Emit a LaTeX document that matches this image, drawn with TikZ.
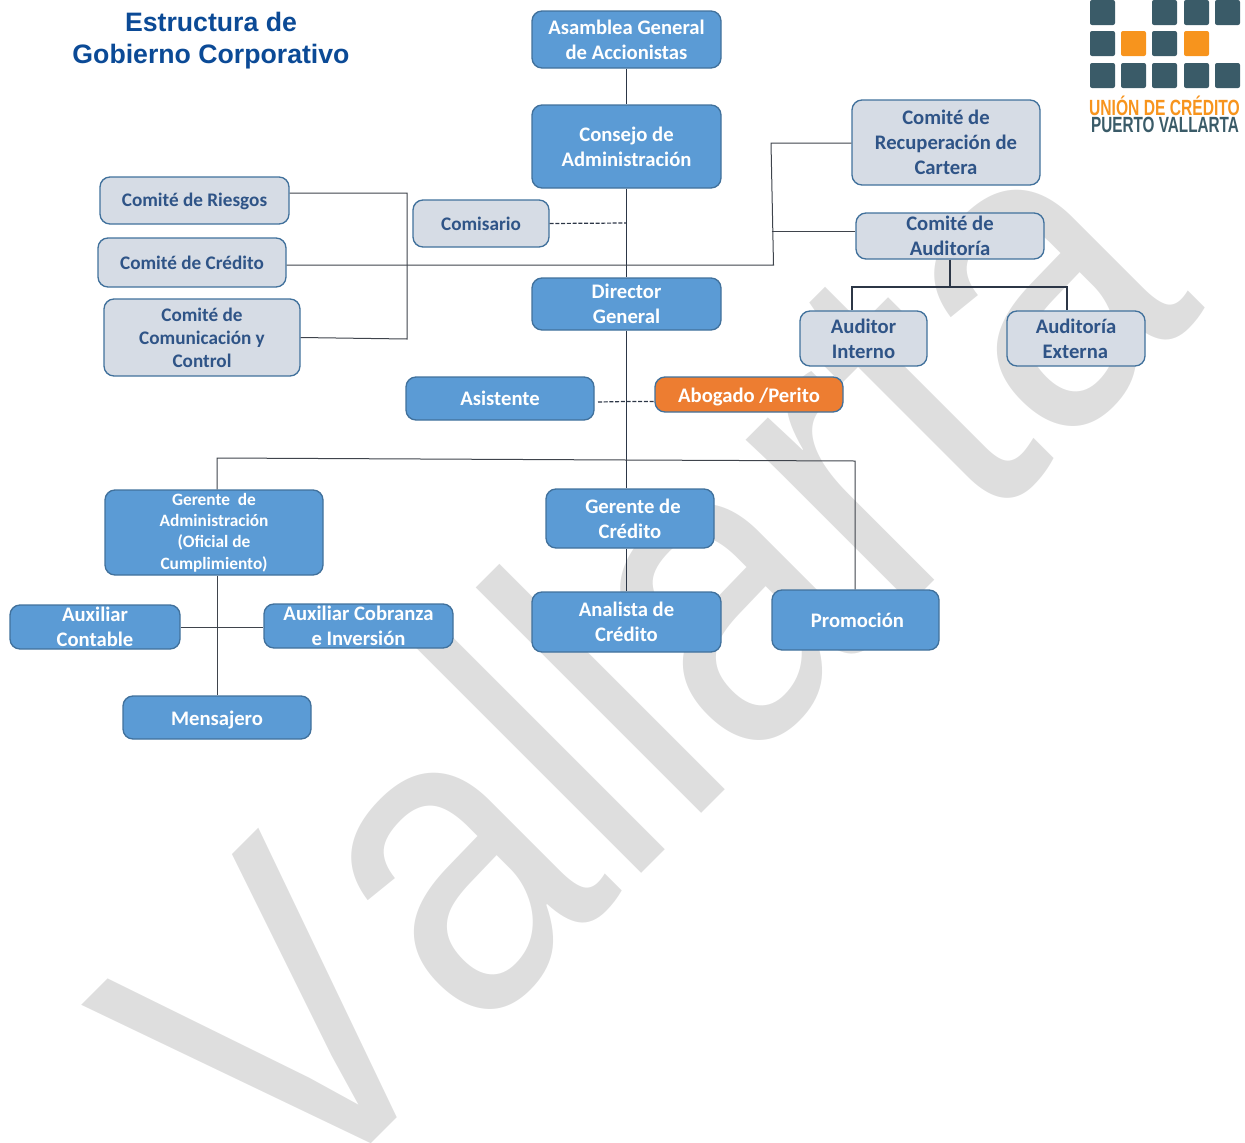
\documentclass[tikz,border=0pt]{standalone}
\usepackage{fontspec}
\setmainfont{Carlito}
\newfontfamily\arialf{Liberation Sans}
\newfontfamily\wmfont[Kerning=Off]{Liberation Sans}
\definecolor{bluefill}{HTML}{5B9BD5}
\definecolor{blueline}{HTML}{41719C}
\definecolor{lightfill}{HTML}{D6DCE5}
\definecolor{lighttext}{HTML}{2F5487}
\definecolor{orangefill}{HTML}{ED7D31}
\definecolor{logodark}{HTML}{3A5B68}
\definecolor{logoorange}{HTML}{F7941D}
\definecolor{wm}{HTML}{DEDEDE}
\definecolor{conn}{HTML}{2C3646}
\definecolor{conngray}{HTML}{3F444C}
\definecolor{titleblue}{HTML}{0B4A96}
\tikzset{
  basebox/.style={draw=blueline,line width=1pt,rounded corners=7.5pt,inner sep=0pt,align=center,font=\fontsize{15.5}{18.7}\selectfont\bfseries},
  bluebox/.style={basebox,fill=bluefill,text=white},
  lightbox/.style={basebox,fill=lightfill,text=lighttext},
  smalllight/.style={lightbox,font=\fontsize{14.4}{17.3}\selectfont\bfseries},
  orangebox/.style={basebox,fill=orangefill,text=white},
  conline/.style={draw=conn,line width=0.85pt},
  grayline/.style={draw=conngray,line width=0.75pt},
  dashline/.style={draw=conn,line width=0.9pt,dash pattern=on 3pt off 1.3pt},
  logosq/.style={fill=logodark,rounded corners=1.5pt},
  logoor/.style={fill=logoorange,rounded corners=1.5pt},
}
\newcommand{\bx}[7]{\node[#2,minimum width={(#5-#3)*0.75pt},minimum height={(#6-#4)*0.75pt}] (#1) at ({(#3+#5)/2},{(#4+#6)/2}) {#7};}
\newcommand{\lgsq}[3]{\path[#1] (#2,#3) rectangle ++(25,25);}
\newcommand{\lowered}[2]{\raisebox{-#1}[\height][\depth]{#2}}
\begin{document}
\begin{tikzpicture}[x=0.75pt,y=-0.75pt]
\useasboundingbox (0,0) rectangle (1245,1142);
\begin{scope}
\clip (0,0) rectangle (1245,1142);
\node[anchor=base west,rotate=45,text=wm,inner sep=0pt,font=\wmfont\fontsize{330}{330}\selectfont] (wmark) at (294,1221) {\scalebox{0.865}[1]{Vallarta}};
\end{scope}
% title
\node[font=\arialf\fontsize{20}{24}\selectfont\bfseries,text=titleblue,align=center,inner sep=0pt] (title) at (211,41) {Estructura de\\Gobierno Corporativo};
% logo
\foreach \x/\y in {1090/0,1152/0,1184/0,1215/0,1090/31,1152/31,1090/63,1121/63,1152/63,1184/63,1215/63}{\lgsq{logosq}{\x}{\y}}
\foreach \x/\y in {1121/31,1184/31}{\lgsq{logoor}{\x}{\y}}
\node[inner sep=0pt,font=\arialf\fontsize{16.5}{17}\selectfont\bfseries,text=logoorange] (logoa) at (1164.5,105.5) {\scalebox{0.71}[1]{UNIÓN DE CRÉDITO}};
\node[inner sep=0pt,font=\arialf\fontsize{16.5}{17}\selectfont\bfseries,text=logodark] (logob) at (1165,125) {\scalebox{0.695}[1]{PUERTO VALLARTA}};
% boxes
\bx{asamblea}{bluebox}{532}{11}{721}{68}{Asamblea General\\de Accionistas}
\bx{consejo}{bluebox}{532}{105}{721}{188}{Consejo de\\Administración}
\bx{riesgos}{smalllight}{100}{177}{289}{224}{\lowered{0.75pt}{Comité de Riesgos}}
\bx{credito}{smalllight}{98}{238}{286}{287}{Comité de Crédito}
\bx{comunic}{smalllight}{104}{299}{300}{376}{Comité de\\Comunicación y\\Control}
\bx{comisario}{smalllight}{413}{200}{549}{247}{Comisario}
\bx{recup}{lightbox}{852}{100}{1040}{185}{Comité de\\Recuperación de\\Cartera}
\bx{audit}{lightbox}{856}{213}{1044}{259}{Comité de\\Auditoría}
\bx{director}{bluebox}{532}{278}{721}{330}{Director\\General}
\bx{interno}{lightbox}{800}{311}{927}{366}{Auditor\\Interno}
\bx{externa}{lightbox}{1007}{311}{1145}{366}{Auditoría\\Externa\hspace*{1pt}}
\bx{asistente}{bluebox}{406}{377}{594}{420}{Asistente}
\bx{abogado}{orangebox}{655}{377}{843}{412}{\lowered{1.5pt}{Abogado /Perito}}
\bx{gadm}{bluebox,font=\fontsize{13}{15.9}\selectfont\bfseries}{105}{490}{323}{575}{Gerente\ \ de\\Administración\\(Oficial de\\Cumplimiento)}
\bx{gcred}{bluebox}{546}{489}{714}{548}{\hspace*{4.5pt}Gerente de\\Crédito}
\bx{analista}{bluebox}{532}{592}{721}{652}{Analista de\\Crédito}
\bx{promo}{bluebox}{772}{590}{939}{650}{\hspace*{3pt}Promoción}
\bx{auxcont}{bluebox}{10}{605}{180}{649}{Auxiliar\\Contable}
\bx{auxcob}{bluebox}{264}{604}{453}{648}{Auxiliar Cobranza\\e Inversión}
\bx{mensajero}{bluebox}{123}{696}{311}{739}{\lowered{1.5pt}{Mensajero}}
% junctions
\coordinate (trunkA) at (626.5,223);
\coordinate (busL) at (217,458);
\coordinate (busM) at (626.5,460);
\coordinate (busR) at (855,461);
\coordinate (leftV1) at (407,193);
\coordinate (leftV2) at (407,339);
\coordinate (rightB) at (773.5,265);
\coordinate (rightT) at (771,143);
\coordinate (rightM) at (771.5,231);
\coordinate (audJ) at (950,287);
\coordinate (audL) at (852,287);
\coordinate (audR) at (1067,287);
\coordinate (legal) at (626.5,401.5);
\coordinate (auxJ) at (217,627);
% connectors
\draw[conline] (asamblea.south) -- (consejo.north);
\draw[conline] (consejo.south) -- (director.north);
\draw[conline] (director.south) -- (busM);
\draw[conline] (busM) -- (gcred.north -| busM);
\draw[conline] (gcred.south -| busM) -- (analista.north);
\draw[grayline] (gadm.north -| busL) -- (busL) -- (busM) -- (busR) -- (promo.north -| busR);
\draw[grayline] (riesgos.east |- leftV1) -- (leftV1) -- (leftV2) -- (comunic.east);
\draw[grayline] (credito.east |- rightB) -- (rightB) -- (rightT) -- (recup.west |- rightT);
\draw[grayline] (rightM) -- (audit.west |- rightM);
\draw[dashline] (comisario.east) -- (trunkA);
\draw[dashline] (598,402) -- (legal) -- (abogado.west |- legal);
\draw[conline] (audit.south -| audJ) -- (audJ);
\draw[conline] (interno.north -| audL) -- (audL) -- (audR) -- (externa.north -| audR);
\draw[grayline] (gadm.south -| busL) -- (mensajero.north -| busL);
\draw[grayline] (auxcont.east |- auxJ) -- (auxcob.west |- auxJ);
\end{tikzpicture}
\end{document}
